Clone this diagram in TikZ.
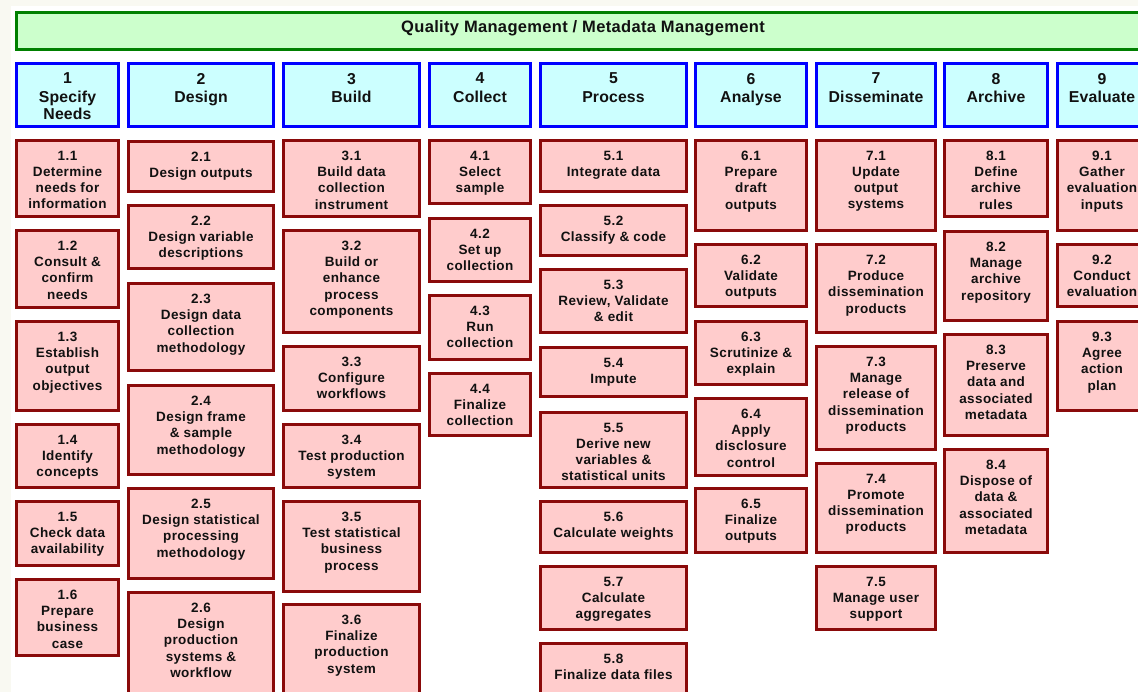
\documentclass[tikz,border=0pt]{standalone}
\usepackage{fontspec}
\setmainfont{Liberation Sans}
\newfontfamily\bxfont{Liberation Sans}[LetterSpace=3]
\newfontfamily\hdfont{Liberation Sans}[LetterSpace=1]
\newfontfamily\ttfont{Liberation Sans}[LetterSpace=2]
\definecolor{offw}{HTML}{F9F9F2}
\definecolor{rbd}{HTML}{8A0A0A}
\definecolor{rbf}{HTML}{FFCCCC}
\definecolor{hbd}{HTML}{0000FF}
\definecolor{hbf}{HTML}{CCFFFF}
\definecolor{gbd}{HTML}{008000}
\definecolor{gbf}{HTML}{CCFFCC}
\definecolor{txt}{HTML}{111111}
\tikzset{
  redbox/.style={draw=rbd, fill=rbf, line width=2.6pt, inner sep=0pt, outer sep=0pt},
  headbox/.style={draw=hbd, fill=hbf, line width=2.6pt, inner sep=0pt, outer sep=0pt},
  topbox/.style={draw=gbd, fill=gbf, line width=2.6pt, inner sep=0pt, outer sep=0pt},
  btext/.style={inner sep=0pt, align=center, text=txt, font=\bxfont\bfseries\fontsize{13.5}{16.3}\selectfont},
  htext/.style={inner sep=0pt, align=center, text=txt, font=\hdfont\bfseries\fontsize{15.8}{16.8}\selectfont},
  ttext/.style={inner sep=0pt, text=txt, font=\ttfont\bfseries\fontsize{16.5}{18}\selectfont},
}
% name, x1, y1, x2, y2, text
\newcommand\rbx[6]{%
  \node[redbox, minimum width={#4-#2-2.6}, minimum height={#5-#3-2.6}] (#1) at ({(#2+#4)/2},{(#3+#5)/2}) {};
  \node[btext, anchor=north] (#1t) at ([yshift=-10.3pt]#1.north) {#6};
}
% name, x1, x2, number, title
\newcommand\hbx[5]{%
  \node[headbox, minimum width={#3-#2-2.6}, minimum height={128-62-2.6}] (#1) at ({(#2+#3)/2},95) {};
  \node[htext, anchor=north] (#1t) at ([yshift=-9.5pt]#1.north) {#4\\[2pt]#5};
}
\begin{document}
\begin{tikzpicture}[x=1pt,y=-1pt]
\useasboundingbox (0,0) rectangle (1138,692);
\clip (0,0) rectangle (1138,692);
\fill[offw] (0,0) rectangle (1138,692);
\fill[white] (11,6) rectangle (1138,692);

\node[topbox, minimum width={1152-15-2.6}, minimum height={51-11-2.6}] (qm) at ({(15+1152)/2},31) {};
\node[ttext] (qmt) at (583,28) {Quality Management / Metadata Management};

\hbx{h1}{15}{120}{1}{Specify\\Needs}
\hbx{h2}{127}{275}{2}{Design}
\hbx{h3}{282}{421}{3}{Build}
\hbx{h4}{428}{532}{4}{Collect}
\hbx{h5}{539}{688}{5}{Process}
\hbx{h6}{694}{808}{6}{Analyse}
\hbx{h7}{815}{937}{7}{Disseminate}
\hbx{h8}{943}{1049}{8}{Archive}
\hbx{h9}{1056}{1148}{9}{Evaluate}

% column 1
\rbx{b11}{15}{139}{120}{218}{1.1\\Determine\\needs for\\information}
\rbx{b12}{15}{229}{120}{309}{1.2\\Consult \&\\confirm\\needs}
\rbx{b13}{15}{320}{120}{412}{1.3\\Establish\\output\\objectives}
\rbx{b14}{15}{423}{120}{489}{1.4\\Identify\\concepts}
\rbx{b15}{15}{500}{120}{567}{1.5\\Check data\\availability}
\rbx{b16}{15}{578}{120}{657}{1.6\\Prepare\\business\\case}
% column 2
\rbx{b21}{127}{140}{275}{193}{2.1\\Design outputs}
\rbx{b22}{127}{204}{275}{270}{2.2\\Design variable\\descriptions}
\rbx{b23}{127}{282}{275}{372}{2.3\\Design data\\collection\\methodology}
\rbx{b24}{127}{384}{275}{476}{2.4\\Design frame\\\& sample\\methodology}
\rbx{b25}{127}{487}{275}{580}{2.5\\Design statistical\\processing\\methodology}
\rbx{b26}{127}{591}{275}{712}{2.6\\Design\\production\\systems \&\\workflow}
% column 3
\rbx{b31}{282}{139}{421}{218}{3.1\\Build data\\collection\\instrument}
\rbx{b32}{282}{229}{421}{334}{3.2\\Build or\\enhance\\process\\components}
\rbx{b33}{282}{345}{421}{412}{3.3\\Configure\\workflows}
\rbx{b34}{282}{423}{421}{489}{3.4\\Test production\\system}
\rbx{b35}{282}{500}{421}{593}{3.5\\Test statistical\\business\\process}
\rbx{b36}{282}{603}{421}{712}{3.6\\Finalize\\production\\system}
% column 4
\rbx{b41}{428}{139}{532}{205}{4.1\\Select\\sample}
\rbx{b42}{428}{217}{532}{283}{4.2\\Set up\\collection}
\rbx{b43}{428}{294}{532}{361}{4.3\\Run\\collection}
\rbx{b44}{428}{372}{532}{437}{4.4\\Finalize\\collection}
% column 5
\rbx{b51}{539}{139}{688}{193}{5.1\\Integrate data}
\rbx{b52}{539}{204}{688}{257}{5.2\\Classify \& code}
\rbx{b53}{539}{268}{688}{334}{5.3\\Review, Validate\\\& edit}
\rbx{b54}{539}{346}{688}{398}{5.4\\Impute}
\rbx{b55}{539}{411}{688}{489}{5.5\\Derive new\\variables \&\\statistical units}
\rbx{b56}{539}{500}{688}{554}{5.6\\Calculate weights}
\rbx{b57}{539}{565}{688}{631}{5.7\\Calculate\\aggregates}
\rbx{b58}{539}{642}{688}{712}{5.8\\Finalize data files}
% column 6
\rbx{b61}{694}{139}{808}{232}{6.1\\Prepare\\draft\\outputs}
\rbx{b62}{694}{243}{808}{308}{6.2\\Validate\\outputs}
\rbx{b63}{694}{320}{808}{386}{6.3\\Scrutinize \&\\explain}
\rbx{b64}{694}{397}{808}{477}{6.4\\Apply\\disclosure\\control}
\rbx{b65}{694}{487}{808}{554}{6.5\\Finalize\\outputs}
% column 7
\rbx{b71}{815}{139}{937}{232}{7.1\\Update\\output\\systems}
\rbx{b72}{815}{243}{937}{334}{7.2\\Produce\\dissemination\\products}
\rbx{b73}{815}{345}{937}{451}{7.3\\Manage\\release of\\dissemination\\products}
\rbx{b74}{815}{462}{937}{554}{7.4\\Promote\\dissemination\\products}
\rbx{b75}{815}{565}{937}{631}{7.5\\Manage user\\support}
% column 8
\rbx{b81}{943}{139}{1049}{218}{8.1\\Define\\archive\\rules}
\rbx{b82}{943}{230}{1049}{322}{8.2\\Manage\\archive\\repository}
\rbx{b83}{943}{333}{1049}{437}{8.3\\Preserve\\data and\\associated\\metadata}
\rbx{b84}{943}{448}{1049}{554}{8.4\\Dispose of\\data \&\\associated\\metadata}
% column 9
\rbx{b91}{1056}{139}{1148}{232}{9.1\\Gather\\evaluation\\inputs}
\rbx{b92}{1056}{243}{1148}{308}{9.2\\Conduct\\evaluation}
\rbx{b93}{1056}{320}{1148}{412}{9.3\\Agree\\action\\plan}
\end{tikzpicture}
\end{document}
